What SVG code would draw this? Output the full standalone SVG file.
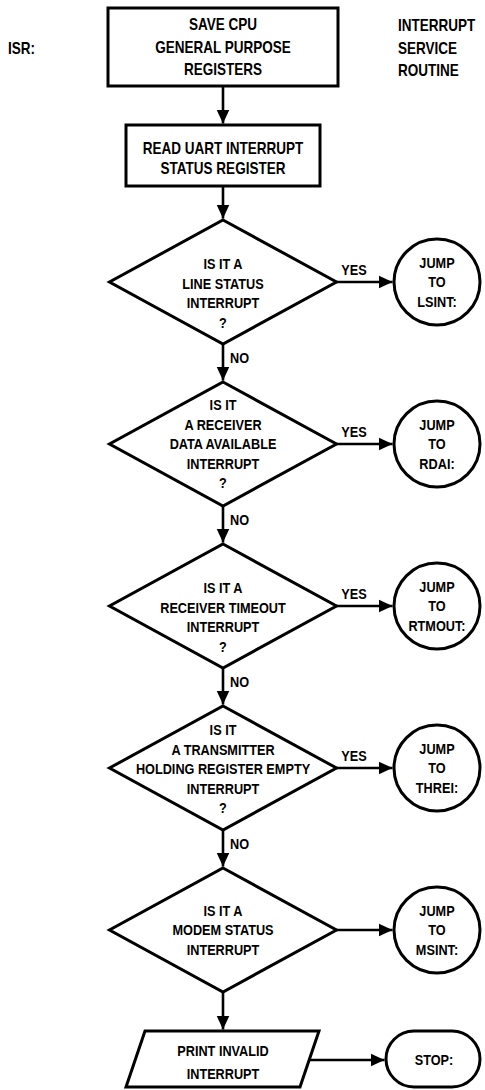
<svg xmlns="http://www.w3.org/2000/svg" width="485" height="1090" viewBox="0 0 485 1090">
<style>
text{font-family:"Liberation Sans",Arial,sans-serif;font-weight:bold;font-size:15.5px;fill:#000;text-anchor:middle}
.l{text-anchor:start}
.b{font-size:16.5px}
.s{fill:#fff;stroke:#000;stroke-width:3;stroke-linejoin:miter}
.c{fill:none;stroke:#000;stroke-width:2.6}
</style>
<defs>
<marker id="ah" markerWidth="14" markerHeight="14" refX="14" refY="7" orient="auto" markerUnits="userSpaceOnUse"><path d="M0,0.5 L14,7 L0,13.5 z" fill="#000"/></marker>
</defs>
<rect width="485" height="1090" fill="#fff"/>
<g id="labels">
<g transform="translate(8 0) scale(0.82 1)"><text class="l b" x="0" y="54">ISR:</text></g>
<g transform="translate(398 0) scale(0.82 1)">
<text class="l b" x="0" y="31">INTERRUPT</text>
<text class="l b" x="0" y="54">SERVICE</text>
<text class="l b" x="0" y="76">ROUTINE</text>
</g>
</g>
<g id="connectors">
<line class="c" x1="223" y1="86" x2="223" y2="123.5" marker-end="url(#ah)"/>
<line class="c" x1="223" y1="186" x2="223" y2="218.5" marker-end="url(#ah)"/>
<line class="c" x1="223" y1="344" x2="223" y2="380.5" marker-end="url(#ah)"/>
<line class="c" x1="223" y1="506" x2="223" y2="542.5" marker-end="url(#ah)"/>
<line class="c" x1="223" y1="668" x2="223" y2="704.5" marker-end="url(#ah)"/>
<line class="c" x1="223" y1="830" x2="223" y2="866.5" marker-end="url(#ah)"/>
<line class="c" x1="223" y1="992" x2="223" y2="1029.5" marker-end="url(#ah)"/>
<line class="c" x1="336" y1="282" x2="392.5" y2="282" marker-end="url(#ah)"/>
<line class="c" x1="336" y1="444" x2="392.5" y2="444" marker-end="url(#ah)"/>
<line class="c" x1="336" y1="606" x2="392.5" y2="606" marker-end="url(#ah)"/>
<line class="c" x1="336" y1="768" x2="392.5" y2="768" marker-end="url(#ah)"/>
<line class="c" x1="336" y1="930" x2="392.5" y2="930" marker-end="url(#ah)"/>
<line class="c" x1="309" y1="1060" x2="384.5" y2="1060" marker-end="url(#ah)"/>
<g transform="translate(354 0) scale(0.82 1)">
<text x="0" y="275">YES</text>
<text x="0" y="437">YES</text>
<text x="0" y="599">YES</text>
<text x="0" y="761">YES</text>
</g>
<g transform="translate(230 0) scale(0.82 1)">
<text class="l" x="0" y="363">NO</text>
<text class="l" x="0" y="525">NO</text>
<text class="l" x="0" y="687">NO</text>
<text class="l" x="0" y="849">NO</text>
</g>
</g>
<g id="save">
<rect class="s" x="108" y="8" width="230" height="78"/>
<g transform="translate(223 0) scale(0.82 1)">
<text class="b" x="0" y="30">SAVE CPU</text>
<text class="b" x="0" y="53">GENERAL PURPOSE</text>
<text class="b" x="0" y="75">REGISTERS</text>
</g>
</g>
<g id="read">
<rect class="s" x="126" y="125" width="194" height="61"/>
<g transform="translate(223 0) scale(0.82 1)">
<text class="b" x="0" y="154.5">READ UART INTERRUPT</text>
<text class="b" x="0" y="174.5">STATUS REGISTER</text>
</g>
</g>
<g id="d1">
<polygon class="s" points="223,220 336.5,282 223,344 109.5,282"/>
<g transform="translate(223 0) scale(0.82 1)">
<text x="0" y="269.5">IS IT A</text>
<text x="0" y="289">LINE STATUS</text>
<text x="0" y="308.5">INTERRUPT</text>
<text x="0" y="328">?</text>
</g>
</g>
<g id="c1">
<circle class="s" cx="437" cy="282" r="43"/>
<g transform="translate(437 0) scale(0.82 1)">
<text x="0" y="268">JUMP</text>
<text x="0" y="287.5">TO</text>
<text x="0" y="307">LSINT:</text>
</g>
</g>
<g id="d2">
<polygon class="s" points="223,382 336.5,444 223,506 109.5,444"/>
<g transform="translate(223 0) scale(0.82 1)">
<text x="0" y="410.5">IS IT</text>
<text x="0" y="430">A RECEIVER</text>
<text x="0" y="449.5">DATA AVAILABLE</text>
<text x="0" y="469">INTERRUPT</text>
<text x="0" y="488.5">?</text>
</g>
</g>
<g id="c2">
<circle class="s" cx="437" cy="444" r="43"/>
<g transform="translate(437 0) scale(0.82 1)">
<text x="0" y="430">JUMP</text>
<text x="0" y="449.5">TO</text>
<text x="0" y="469">RDAI:</text>
</g>
</g>
<g id="d3">
<polygon class="s" points="223,544 336.5,606 223,668 109.5,606"/>
<g transform="translate(223 0) scale(0.82 1)">
<text x="0" y="593.5">IS IT A</text>
<text x="0" y="613">RECEIVER TIMEOUT</text>
<text x="0" y="632.5">INTERRUPT</text>
<text x="0" y="652">?</text>
</g>
</g>
<g id="c3">
<circle class="s" cx="437" cy="606" r="43"/>
<g transform="translate(437 0) scale(0.82 1)">
<text x="0" y="592">JUMP</text>
<text x="0" y="611.5">TO</text>
<text x="0" y="631">RTMOUT:</text>
</g>
</g>
<g id="d4">
<polygon class="s" points="223,706 336.5,768 223,830 109.5,768"/>
<g transform="translate(223 0) scale(0.82 1)">
<text x="0" y="735.5">IS IT</text>
<text x="0" y="755">A TRANSMITTER</text>
<text x="0" y="774.5">HOLDING REGISTER EMPTY</text>
<text x="0" y="794">INTERRUPT</text>
<text x="0" y="813.5">?</text>
</g>
</g>
<g id="c4">
<circle class="s" cx="437" cy="768" r="43"/>
<g transform="translate(437 0) scale(0.82 1)">
<text x="0" y="754">JUMP</text>
<text x="0" y="773.5">TO</text>
<text x="0" y="793">THREI:</text>
</g>
</g>
<g id="d5">
<polygon class="s" points="223,868 336.5,930 223,992 109.5,930"/>
<g transform="translate(223 0) scale(0.82 1)">
<text x="0" y="916">IS IT A</text>
<text x="0" y="935.5">MODEM STATUS</text>
<text x="0" y="955">INTERRUPT</text>
</g>
</g>
<g id="c5">
<circle class="s" cx="437" cy="930" r="43"/>
<g transform="translate(437 0) scale(0.82 1)">
<text x="0" y="916">JUMP</text>
<text x="0" y="935.5">TO</text>
<text x="0" y="955">MSINT:</text>
</g>
</g>
<g id="print">
<polygon class="s" points="145,1031 319,1031 300,1087 126,1087"/>
<g transform="translate(223 0) scale(0.82 1)">
<text x="0" y="1056.5">PRINT INVALID</text>
<text x="0" y="1079">INTERRUPT</text>
</g>
</g>
<g id="stop">
<rect class="s" x="386" y="1031" width="94" height="56" rx="28" ry="28"/>
<g transform="translate(434 0) scale(0.82 1)">
<text x="0" y="1065.5">STOP:</text>
</g>
</g>
</svg>
